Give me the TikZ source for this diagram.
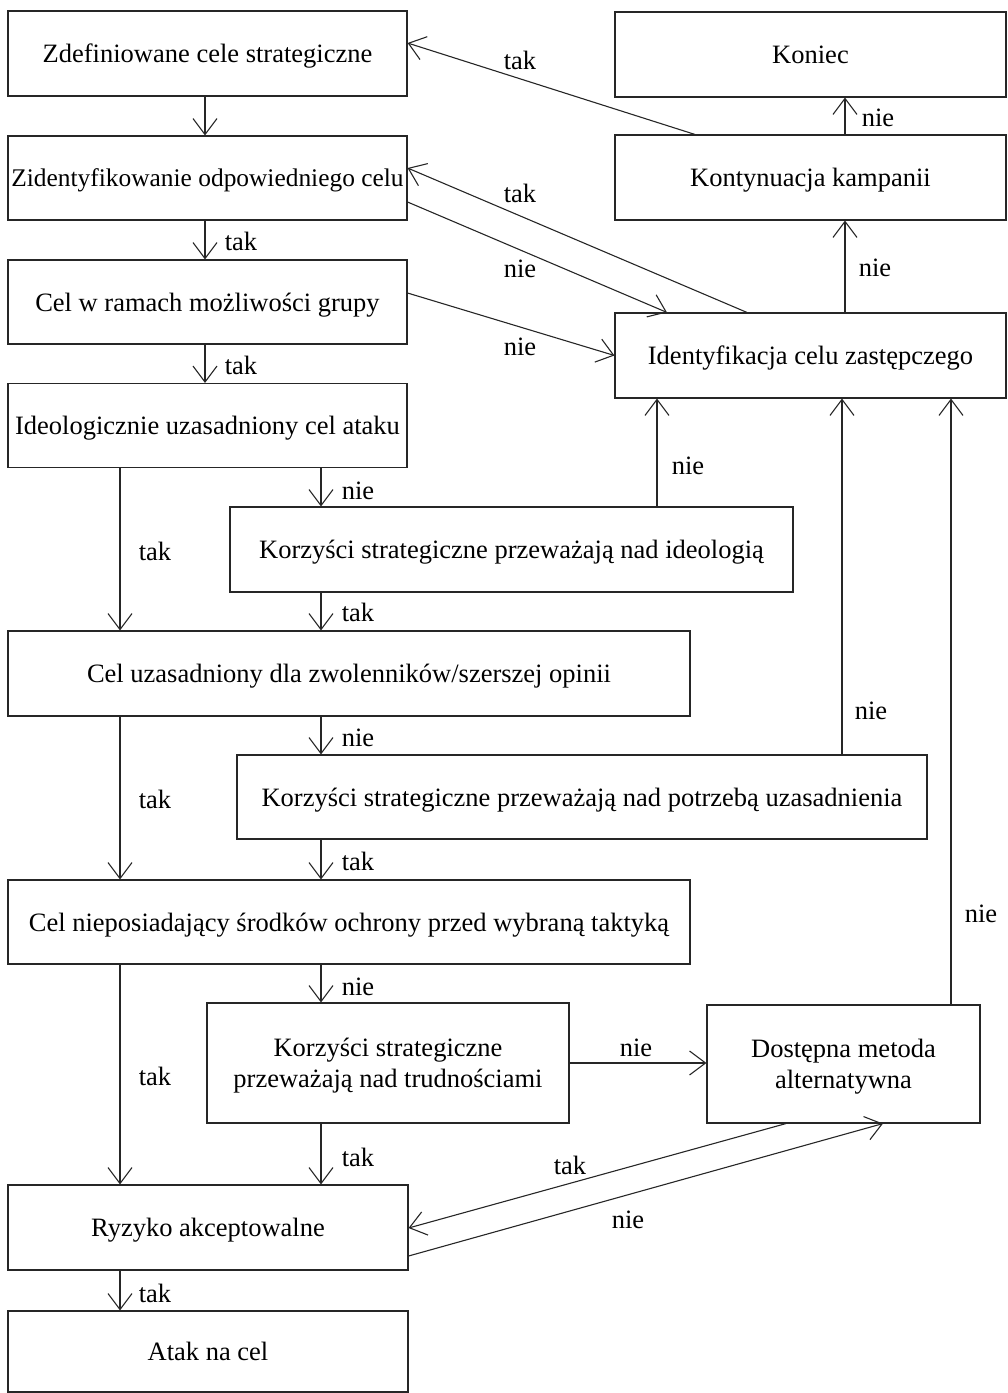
\documentclass[tikz,border=0pt]{standalone}
\usepackage{fontspec}
\setmainfont{Liberation Serif}
\usetikzlibrary{arrows.meta}
\begin{document}
\begin{tikzpicture}[x=1pt,y=-1pt,
  font=\fontsize{26.5}{31}\selectfont,
  box/.style={draw=black!85, line width=1.1pt, inner sep=0pt, align=center, text depth=0pt},
  arr/.style={draw=black!85, line width=1.1pt, -{Straight Barb[length=16pt,width=24pt]}},
  lbl/.style={inner sep=0pt}]
\useasboundingbox (0,0) rectangle (1008,1393);
% helper coordinates
\coordinate (x120) at (120,0);
\coordinate (x205) at (205,0);
\coordinate (x321) at (321,0);
\coordinate (x657) at (657,0);
\coordinate (x695) at (695,0);
\coordinate (x747) at (747,0);
\coordinate (x667) at (667,0);
\coordinate (x786) at (786,0);
\coordinate (x883) at (883,0);
\coordinate (x842) at (842,0);
\coordinate (x845) at (845,0);
\coordinate (x951) at (951,0);
\coordinate (y43) at (0,43);
\coordinate (y168) at (0,168);
\coordinate (y202) at (0,202);
\coordinate (y293) at (0,293);
\coordinate (y1228) at (0,1228);
\coordinate (y1256) at (0,1256);
% boxes
\node[box, minimum width=399pt, minimum height=85pt] (z1) at (207.5,53.5) {Zdefiniowane cele strategiczne};
\node[box, minimum width=399pt, minimum height=84pt, font=\fontsize{25.4}{31}\selectfont] (z2) at (207.5,178) {Zidentyfikowanie odpowiedniego celu};
\node[box, minimum width=399pt, minimum height=84pt] (z3) at (207.5,302) {Cel w ramach możliwości grupy};
\node[box, minimum width=399pt, minimum height=84pt] (z4) at (207.5,425.5) {Ideologicznie uzasadniony cel ataku};
\node[box, minimum width=563pt, minimum height=85pt] (k1) at (511.5,549.5) {Korzyści strategiczne przeważają nad ideologią};
\node[box, minimum width=682pt, minimum height=85pt] (c5) at (349,673.5) {Cel uzasadniony dla zwolenników/szerszej opinii};
\node[box, minimum width=690pt, minimum height=84pt] (k2) at (582,797) {Korzyści strategiczne przeważają nad potrzebą uzasadnienia};
\node[box, minimum width=682pt, minimum height=84pt] (c6) at (349,922) {Cel nieposiadający środków ochrony przed wybraną taktyką};
\node[box, minimum width=362pt, minimum height=120pt] (k3) at (388,1063) {Korzyści strategiczne\\przeważają nad trudnościami};
\node[box, minimum width=273pt, minimum height=118pt] (d) at (843.5,1064) {Dostępna metoda\\alternatywna};
\node[box, minimum width=400pt, minimum height=85pt] (r) at (208,1227.5) {Ryzyko akceptowalne};
\node[box, minimum width=400pt, minimum height=81pt] (a) at (208,1351.5) {Atak na cel};
\node[box, minimum width=391pt, minimum height=85pt] (koniec) at (810.5,54.5) {Koniec};
\node[box, minimum width=391pt, minimum height=85pt] (kont) at (810.5,177.5) {Kontynuacja kampanii};
\node[box, minimum width=391pt, minimum height=85pt] (ident) at (810.5,355.5) {Identyfikacja celu zastępczego};
% connectors
\draw[arr] (z1.south -| x205) -- (z2.north -| x205);
\draw[arr] (z2.south -| x205) -- (z3.north -| x205);
\draw[arr] (z3.south -| x205) -- (z4.north -| x205);
\draw[arr] (z4.south -| x321) -- (k1.north -| x321);
\draw[arr] (z4.south -| x120) -- (c5.north -| x120);
\draw[arr] (k1.north -| x657) -- (ident.south -| x657);
\draw[arr] (k1.south -| x321) -- (c5.north -| x321);
\draw[arr] (c5.south -| x321) -- (k2.north -| x321);
\draw[arr] (c5.south -| x120) -- (c6.north -| x120);
\draw[arr] (k2.north -| x842) -- (ident.south -| x842);
\draw[arr] (k2.south -| x321) -- (c6.north -| x321);
\draw[arr] (c6.south -| x321) -- (k3.north -| x321);
\draw[arr] (c6.south -| x120) -- (r.north -| x120);
\draw[arr] (k3.south -| x321) -- (r.north -| x321);
\draw[arr] (k3.east) -- (k3.east -| d.west);
\draw[arr] (d.north -| x951) -- (ident.south -| x951);
\draw[arr] (r.south -| x120) -- (a.north -| x120);
\draw[arr] (kont.north -| x845) -- (koniec.south -| x845);
\draw[arr] (ident.north -| x845) -- (kont.south -| x845);
\draw[arr] (kont.north -| x695) -- (z1.east |- y43);
\draw[arr] (ident.north -| x747) -- (z2.east |- y168);
\draw[arr] (z2.east |- y202) -- (ident.north -| x667);
\draw[arr] (z3.east |- y293) -- (ident.west);
\draw[arr] (d.south -| x786) -- (r.east |- y1228);
\draw[arr] (r.east |- y1256) -- (d.south -| x883);
% labels
\node[lbl] (t1) at (520,60) {tak};
\node[lbl] (n1) at (878,118) {nie};
\node[lbl] (t2) at (520,193) {tak};
\node[lbl] (n2) at (520,269) {nie};
\node[lbl] (n3) at (875,268) {nie};
\node[lbl] (n4) at (520,347) {nie};
\node[lbl] (t3) at (241,241) {tak};
\node[lbl] (t4) at (241,365) {tak};
\node[lbl] (n5) at (358,491) {nie};
\node[lbl] (t5) at (155,551) {tak};
\node[lbl] (n6) at (688,466) {nie};
\node[lbl] (t6) at (358,612) {tak};
\node[lbl] (n7) at (358,738) {nie};
\node[lbl] (t7) at (155,799) {tak};
\node[lbl] (n8) at (871,711) {nie};
\node[lbl] (t8) at (358,861) {tak};
\node[lbl] (n9) at (358,987) {nie};
\node[lbl] (t9) at (155,1076) {tak};
\node[lbl] (n10) at (636,1048) {nie};
\node[lbl] (n11) at (981,914) {nie};
\node[lbl] (t10) at (358,1157) {tak};
\node[lbl] (t11) at (570,1165) {tak};
\node[lbl] (n12) at (628,1220) {nie};
\node[lbl] (t12) at (155,1293) {tak};
\end{tikzpicture}
\end{document}
